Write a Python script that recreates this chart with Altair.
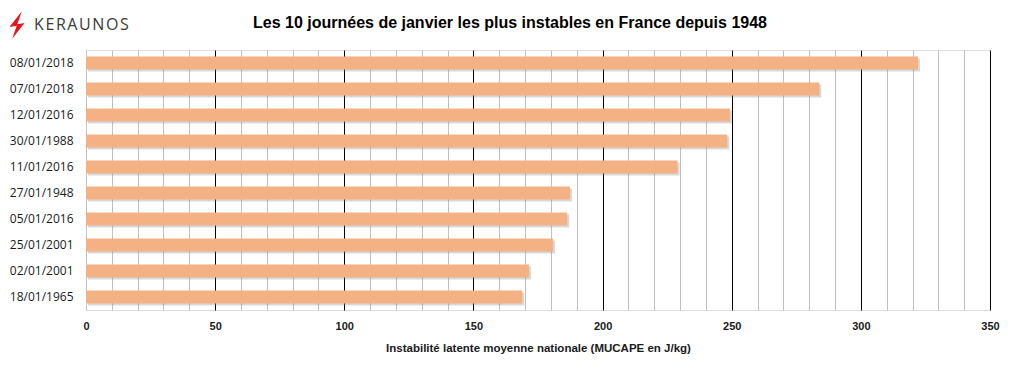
import altair as alt
import pandas as pd

dates = ["08/01/2018", "07/01/2018", "12/01/2016", "30/01/1988", "11/01/2016",
         "27/01/1948", "05/01/2016", "25/01/2001", "02/01/2001", "18/01/1965"]
mucape = [322.1, 283.9, 249.3, 248.3, 229.0, 187.4, 186.3, 180.8, 171.5, 168.9]
x_ticks = list(range(0, 351, 10))

title_text = "Les 10 journées de janvier les plus instables en France depuis 1948"
x_title = "Instabilité  latente moyenne nationale  (MUCAPE  en J/kg)"
logo = "K\u200aE\u200aR\u200aA\u200aU\u200aN\u200aO\u200aS"

df = pd.DataFrame({"date": dates, "mucape": mucape})

W, H = 904, 260
BAR = "#F4B183"

x_enc = alt.X(
    "mucape:Q",
    scale=alt.Scale(domain=[0, 350], nice=False, zero=True),
    axis=alt.Axis(
        values=x_ticks,
        title=x_title,
        labelExpr="datum.value % 50 === 0 ? datum.label : ''",
        labelFlush=False,
        domain=False, ticks=False,
        grid=True,
        gridColor={"condition": {"test": "datum.value % 50 === 0 && datum.value > 0", "value": "#000000"}, "value": "#c0c0c0"},
        gridWidth=1,
        labelFont="Liberation Sans", labelFontWeight="bold", labelFontSize=11,
        labelColor="#1a1a1a", labelPadding=10,
        titleFont="Liberation Sans", titleFontWeight="bold", titleFontSize=11.5,
        titleColor="#1a1a1a", titlePadding=11,
    ),
)
y_enc = alt.Y(
    "date:N", sort=None,
    scale=alt.Scale(paddingInner=0.5, paddingOuter=0.25),
    axis=alt.Axis(title=None, domain=False, ticks=False, grid=False,
                  labelFont="Open Sans", labelFontSize=12, labelColor="#1a1a1a",
                  labelPadding=13),
)

shadow = alt.Chart(df).mark_bar(color="#7f7f7f", opacity=0.3, xOffset=2, yOffset=2).encode(
    x=x_enc, y=y_enc
)
bars = alt.Chart(df).mark_bar(color=BAR).encode(x=x_enc, y=y_enc)

bolt = alt.Chart(df.head(1)).mark_point(
    shape="M0.35,-1 L-0.55,0.15 L-0.02,0.05 L-0.35,1 L0.55,-0.15 L0.02,-0.05 Z",
    size=750, filled=True, color="#e3161b", opacity=1,
).encode(x=alt.value(-69), y=alt.value(-25))

logo_text = alt.Chart(df.head(1)).mark_text(
    text=logo, font="Open Sans", fontSize=16, color="#3a3a3a",
    align="left", baseline="middle",
).encode(x=alt.value(-52), y=alt.value(-25))

title = alt.Chart(df.head(1)).mark_text(
    text=title_text, font="Liberation Sans", fontSize=16, fontWeight="bold",
    color="#000000", align="center", baseline="alphabetic",
).encode(x=alt.value(424), y=alt.value(-22))

chart = alt.layer(shadow, bars, bolt, logo_text, title).properties(
    width=W, height=H,
    autosize=alt.AutoSizeParams(type="none"),
    padding={"left": 78, "top": 42, "right": 18, "bottom": 55},
).configure_view(strokeWidth=0).configure(background="white")

chart.save("out.html", embed_options={"renderer": "svg", "actions": False})
